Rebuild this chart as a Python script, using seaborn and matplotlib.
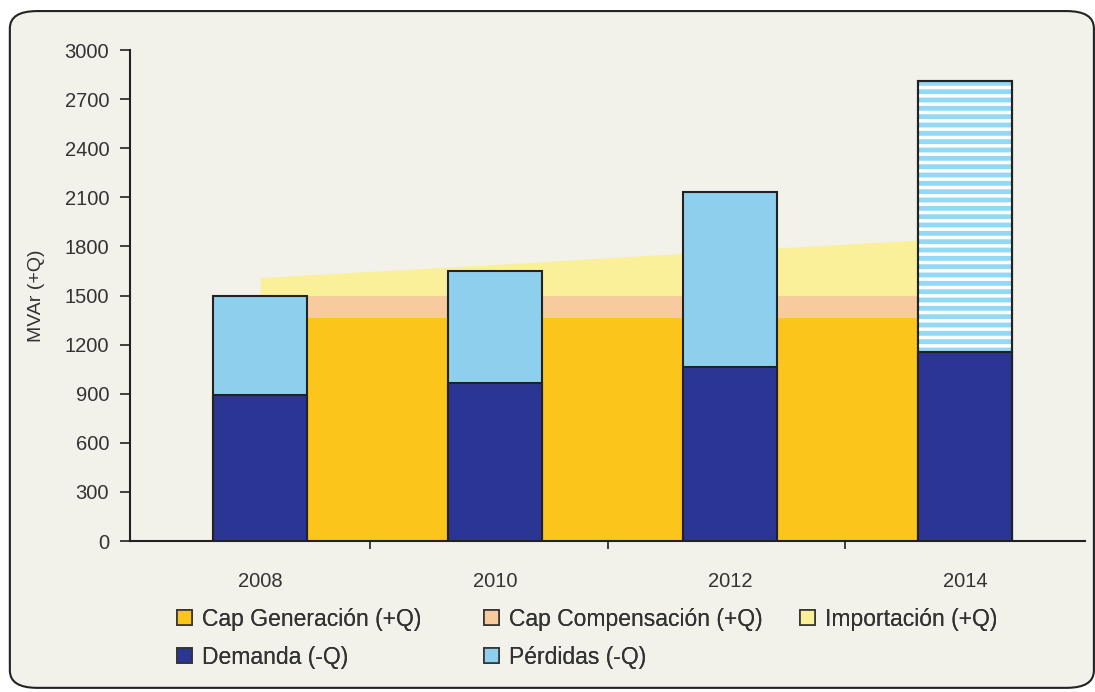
import matplotlib
matplotlib.use("Agg")
import matplotlib.pyplot as plt
import seaborn as sns
import pandas as pd
from matplotlib.patches import Patch, FancyBboxPatch

# data
years = ["2008", "2010", "2012", "2014"]
cap_generacion = [1360, 1360, 1360, 1360]
cap_compensacion = [140, 140, 140, 140]
importacion = [110, 190, 275, 355]
demanda = [890, 965, 1065, 1155]
perdidas = [610, 685, 1065, 1655]
series_names = ["Cap Generación (+Q)", "Cap Compensación (+Q)", "Importación (+Q)",
                "Demanda (-Q)", "Pérdidas (-Q)"]

c_gen = "#FBC51C"
c_comp = "#F7CB9E"
c_imp = "#FBF09A"
c_dem = "#2B3593"
c_perd = "#8FCFEE"
bg = "#F2F1EA"
txt = "#333333"

sns.set_style("ticks")
plt.rcParams["font.family"] = ["Liberation Sans", "DejaVu Sans"]
plt.rcParams["hatch.linewidth"] = 2.5

df = pd.DataFrame({"year": years, "demanda": demanda,
                   "total": [d + p for d, p in zip(demanda, perdidas)]})

fig = plt.figure(figsize=(10.95, 6.92), dpi=100)
fig.patch.set_facecolor("white")
frame = FancyBboxPatch((0.009, 0.006), 0.99, 0.978, boxstyle="round,pad=0,rounding_size=0.025",
                       transform=fig.transFigure, facecolor=bg, edgecolor="#222222",
                       linewidth=1.5, zorder=-5)
fig.patches.append(frame)

ax = fig.add_axes([0.1187, 0.2182, 0.8723, 0.7095])
ax.set_facecolor(bg)
ax.set_zorder(1)

# stacked areas
xs = list(range(len(years)))
top_gen = cap_generacion
top_comp = [g + c for g, c in zip(cap_generacion, cap_compensacion)]
top_imp = [t + i for t, i in zip(top_comp, importacion)]
ax.fill_between(xs, 0, top_gen, color=c_gen, linewidth=0, zorder=1)
ax.fill_between(xs, top_gen, top_comp, color=c_comp, linewidth=0, zorder=1)
ax.fill_between(xs, top_comp, top_imp, color=c_imp, linewidth=0, zorder=1)

# bars: total (pérdidas on top) then demanda
sns.barplot(data=df, x="year", y="total", color=c_perd, width=0.4, saturation=1,
            edgecolor="#222222", linewidth=1.5, ax=ax, zorder=2)
# hatched 2014 pérdidas
p = ax.patches[3]
p.set_facecolor("#93D8F5")
ax.bar(3, df["total"][3], width=0.4, fill=False, hatch="--", edgecolor="white",
       linewidth=0, zorder=3)
ax.bar(3, df["total"][3], width=0.4, fill=False, edgecolor="#222222", linewidth=1.5, zorder=4)
sns.barplot(data=df, x="year", y="demanda", color=c_dem, width=0.4, saturation=1,
            edgecolor="#222222", linewidth=1.5, ax=ax, zorder=5)

ax.set_xlim(-0.553, 3.51)
ax.set_ylim(0, 3000)
ax.set_yticks(range(0, 3001, 300))
ax.set_xticks(xs)
ax.set_xticklabels(years)
ax.set_xticks([0.47, 1.48, 2.49], minor=True)
ax.tick_params(axis="x", which="major", length=0, pad=22, labelsize=14.5, labelcolor=txt)
ax.tick_params(axis="x", which="minor", length=6, width=1.2, color="#222222", direction="out")
ax.tick_params(axis="y", length=7, width=1.2, color="#222222", labelsize=14.5, labelcolor=txt, pad=8)
ax.set_xlabel("")
ax.set_ylabel("MVAr (+Q)", fontsize=14, color=txt, labelpad=14)
for s in ["top", "right"]:
    ax.spines[s].set_visible(False)
for s in ["left", "bottom"]:
    ax.spines[s].set_linewidth(1.5)
    ax.spines[s].set_color("#222222")

colors = [c_gen, c_comp, c_imp, c_dem, c_perd]
handles = [Patch(facecolor=c, edgecolor="#333333", linewidth=1.2, label=n)
           for c, n in zip(colors, series_names)]
# three legend columns placed like the reference
columns = [[0, 3], [1, 4], [2]]
col_x = [168, 475, 791]
for idx, x0 in zip(columns, col_x):
    leg = fig.legend([handles[i] for i in idx], [series_names[i] for i in idx],
                     loc="upper left", bbox_to_anchor=(x0 / 1095, 0.135), frameon=False,
                     fontsize=16.5, handlelength=0.65, handleheight=0.65, handletextpad=0.45,
                     labelspacing=0.65, labelcolor=txt, borderaxespad=0)
    fig.add_artist(leg)

fig.savefig("out.png", dpi=100, facecolor=fig.get_facecolor())
